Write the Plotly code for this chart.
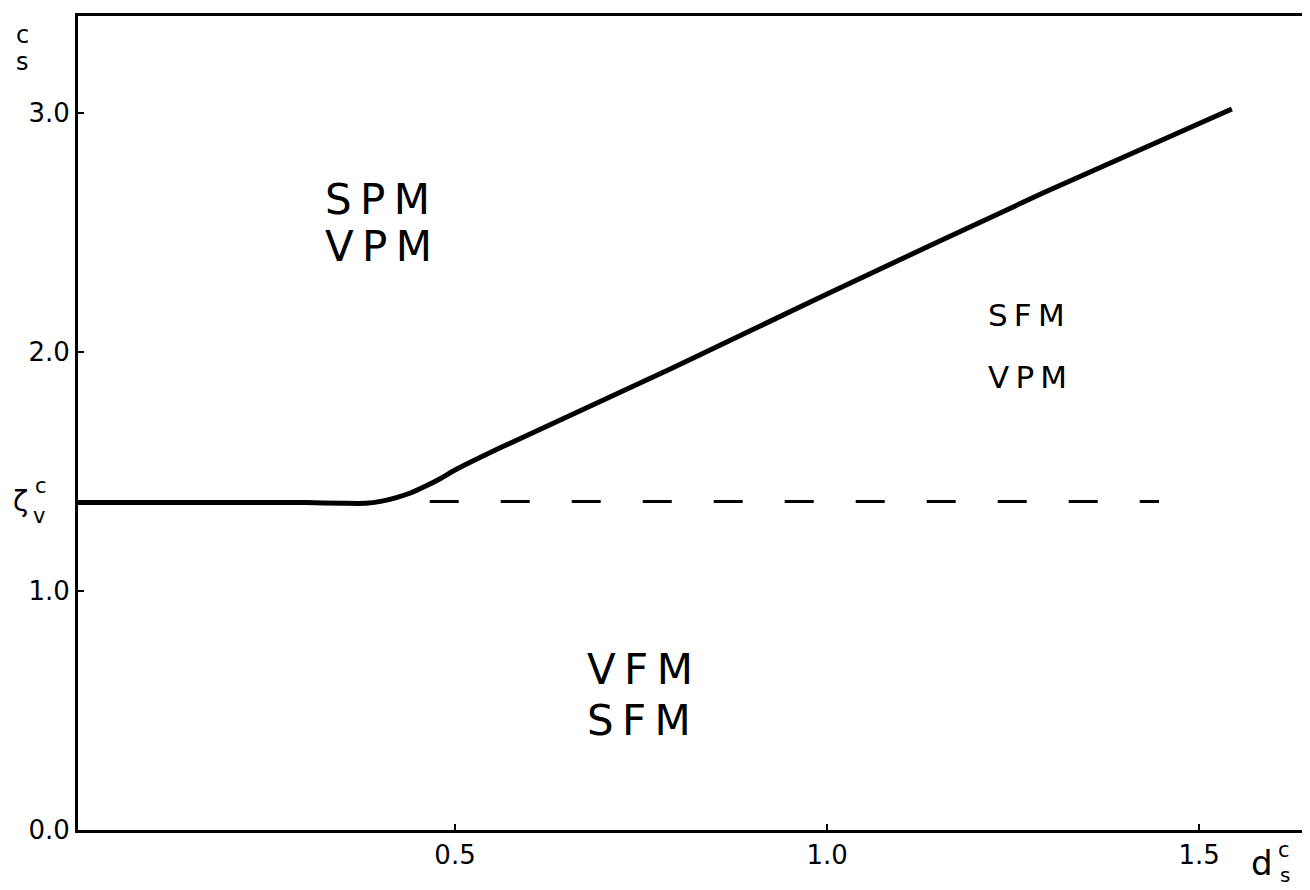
import plotly.graph_objects as go

# Phase boundary (solid curve)
boundary_x = [-0.007, 0.10, 0.20, 0.30, 0.35, 0.38, 0.40, 0.42, 0.44, 0.46, 0.48, 0.50, 0.56, 0.79, 1.00, 1.29, 1.544]
boundary_y = [1.37, 1.37, 1.37, 1.37, 1.367, 1.367, 1.375, 1.39, 1.41, 1.438, 1.47, 1.506, 1.598, 1.93, 2.243, 2.665, 3.017]

# Dashed continuation of zeta_v^c
zeta_v = 1.375
dash_x = [0.466, 1.446]
dash_y = [zeta_v, zeta_v]

x_ticks = [0.5, 1.0, 1.5]
x_tick_text = ["0.5", "1.0", "1.5"]
y_ticks = [0.0, 1.0, 2.0, 3.0]
y_tick_text = ["0.0", "1.0", "2.0", "3.0"]

region_labels = [
    ("S\u2009P\u2009M", 0.322, 2.64, 42),
    ("V\u2009P\u2009M", 0.322, 2.44, 42),
    ("S\u2009F\u2009M", 1.214, 2.155, 31),
    ("V\u2009P\u2009M", 1.214, 1.895, 31),
    ("V\u2009F\u2009M", 0.675, 0.67, 42),
    ("S\u2009F\u2009M", 0.675, 0.46, 42),
]

font_family = "DejaVu Sans"

fig = go.Figure()
fig.add_trace(go.Scatter(
    x=boundary_x, y=boundary_y, mode="lines",
    line=dict(color="black", width=5, shape="spline", smoothing=0.6),
    showlegend=False, hoverinfo="skip"))
fig.add_trace(go.Scatter(
    x=dash_x, y=dash_y, mode="lines",
    line=dict(color="black", width=3, dash="29px,42px"),
    showlegend=False, hoverinfo="skip"))

annotations = []
for text, x, y, size in region_labels:
    annotations.append(dict(x=x, y=y, xref="x", yref="y", text=text, showarrow=False,
                            xanchor="left", yanchor="middle",
                            font=dict(family=font_family, size=size, color="black")))


def paper_label(text, x, y, size):
    return dict(x=x, y=y, xref="paper", yref="paper", text=text, showarrow=False,
                xanchor="center", yanchor="middle",
                font=dict(family=font_family, size=size, color="black"))


# zeta_v^c label on the y axis
annotations += [
    paper_label("ζ", -0.0463, 0.403, 28),
    paper_label("c", -0.0300, 0.423, 21),
    paper_label("v", -0.0320, 0.386, 21),
]
# y axis title (c over s) at top-left
annotations += [
    paper_label("c", -0.045, 0.977, 24),
    paper_label("s", -0.045, 0.943, 24),
]
# x axis title d_s^c at bottom-right
annotations += [
    paper_label("d", 0.961, -0.040, 34),
    paper_label("c", 0.979, -0.025, 21),
    paper_label("s", 0.980, -0.055, 20),
]

fig.update_layout(
    width=1302, height=882,
    margin=dict(l=70, r=0, t=8, b=60),
    paper_bgcolor="white", plot_bgcolor="white",
    font=dict(family=font_family, color="black"),
    annotations=annotations,
    showlegend=False,
)
fig.update_xaxes(
    range=[-0.0067, 1.649], tickvals=x_ticks, ticktext=x_tick_text,
    showgrid=False, zeroline=False, showline=True, linecolor="black", linewidth=3,
    mirror=True, ticks="inside", ticklen=6, tickwidth=2, tickcolor="black",
    tickfont=dict(family=font_family, size=26, color="black"),
)
fig.update_yaxes(
    range=[0, 3.406], tickvals=y_ticks, ticktext=y_tick_text,
    showgrid=False, zeroline=False, showline=True, linecolor="black", linewidth=3,
    mirror=False, ticks="inside", ticklen=6, tickwidth=2, tickcolor="black",
    tickfont=dict(family=font_family, size=26, color="black"),
)

fig.write_html("out.html")
